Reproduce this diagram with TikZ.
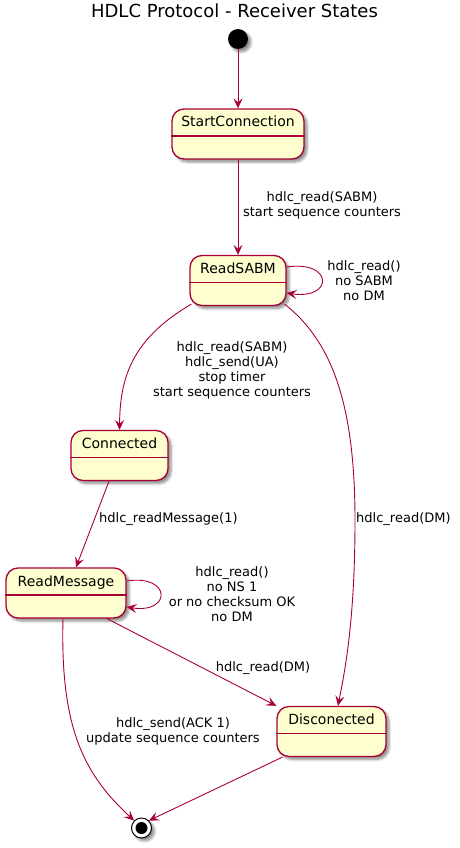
\documentclass[tikz,border=0pt]{standalone}
\usepackage{fontspec}
\setmainfont{DejaVu Sans}
\usetikzlibrary{arrows.meta,shadows.blur}
\definecolor{pumlred}{HTML}{A80036}
\definecolor{pumlfill}{HTML}{FEFECE}
\tikzset{
  x=1pt, y=-1pt,
  pshadow/.style={blur shadow={shadow xshift=3pt, shadow yshift=-3pt, shadow blur steps=6, shadow blur radius=2.5pt, shadow opacity=45}},
  statebox/.style={draw=pumlred, line width=1.3pt, fill=pumlfill, rounded corners=12pt, pshadow,
    inner xsep=0pt, inner ysep=0pt, text height=18pt, text depth=32pt, font=\fontsize{14}{16}\selectfont},
  divider/.style={draw=pumlred, line width=1.2pt},
  conn/.style={draw=pumlred, line width=0.9pt, -{Stealth[length=10pt,width=9pt,inset=4pt]}},
  lbl/.style={font=\fontsize{13}{15}\selectfont, align=center, inner sep=0pt},
  initstate/.style={circle, fill=black, minimum size=20pt, inner sep=0pt, pshadow},
  finalstate/.style={circle, draw=black, line width=1pt, fill=white, minimum size=20pt, inner sep=0pt, pshadow},
}
\begin{document}
\begin{tikzpicture}
\useasboundingbox (0,0) rectangle (459,848);
\node[font=\fontsize{18}{21}\selectfont] (title) at (234.5,11) {HDLC Protocol - Receiver States};

\node[initstate] (init) at (238,39) {};
\node[statebox, minimum width=132pt] (sc) at (238,134) {StartConnection};
\node[statebox, minimum width=96pt] (rs) at (238,280.5) {ReadSABM};
\node[statebox, minimum width=97pt] (co) at (119.5,455.5) {Connected};
\node[statebox, minimum width=120pt] (rm) at (66,593) {ReadMessage};
\node[statebox, minimum width=109pt] (dc) at (331.5,731.5) {Disconected};
\node[finalstate] (fin) at (141.5,828) {};
\fill (fin.center) circle (6pt);

\foreach \n in {sc,rs,co,rm,dc}{
  \draw[divider] ([yshift=-2pt]\n.west) -- ([yshift=-2pt]\n.east);
}

% edges
\draw[conn] (init) -- (sc);
\draw[conn] (sc) -- (rs);
\node[lbl] (l2) at (322,205.5) {hdlc\_read(SABM)\\start sequence counters};
\draw[conn] ([yshift=13.5pt]rs.east) .. controls ++(47,-7) and ++(47,7) .. ([yshift=-12.5pt]rs.east);
\node[lbl] (l3) at (364,281) {hdlc\_read()\\no SABM\\ no DM};
\draw[conn] ([xshift=2pt,yshift=2pt]rs.south west) .. controls (130,340) and (120,380) .. (co.north);
\node[lbl] (l4) at (232,370.5) {hdlc\_read(SABM)\\hdlc\_send(UA)\\stop timer\\start sequence counters};
\draw[conn] ([xshift=-10.5pt]co.south) -- ([xshift=10pt]rm.north);
\node[lbl, anchor=west] (l5) at (99,519) {hdlc\_readMessage(1)};
\draw[conn] ([yshift=12pt]rm.east) .. controls ++(45,-7) and ++(45,7) .. ([yshift=-14pt]rm.east);
\node[lbl] (l6) at (232,594.5) {hdlc\_read()\\no NS 1\\or no checksum OK\\no DM};
\draw[conn] ([xshift=-2pt,yshift=2pt]rs.south east) .. controls (330,340) and (355,400) .. (355,520)
  .. controls (355,620) and (345,670) .. ([xshift=6.5pt]dc.north);
\node[lbl, anchor=west] (l7) at (356,519) {hdlc\_read(DM)};
\draw[conn] ([xshift=41pt]rm.south) -- (dc.north west);
\node[lbl] (l8) at (263,668) {hdlc\_read(DM)};
\draw[conn] ([xshift=-3pt]rm.south) .. controls (60,730) and (85,775) .. (fin.north west);
\node[lbl] (l9) at (173,731.5) {hdlc\_send(ACK 1)\\update sequence counters};
\draw[conn] ([xshift=6pt]dc.south west) -- (fin.north east);
\end{tikzpicture}
\end{document}
